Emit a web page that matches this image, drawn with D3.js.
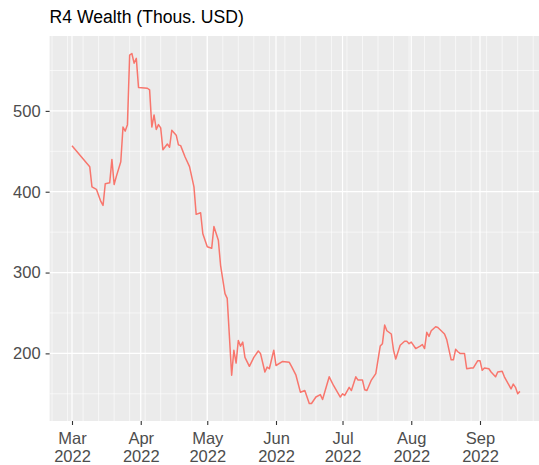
<!DOCTYPE html>
<html><head><meta charset="utf-8">
<script src="https://cdn.jsdelivr.net/npm/d3@7"></script>
<style>html,body{margin:0;padding:0;background:#fff;} svg{display:block;}</style>
</head><body>
<svg id="chart" width="539" height="465"></svg>
<script>
const titleText = "R4 Wealth (Thous. USD)";
const dates = ["2022-03-01","2022-03-09","2022-03-10","2022-03-12","2022-03-14","2022-03-15","2022-03-16","2022-03-18","2022-03-19","2022-03-20","2022-03-21","2022-03-23","2022-03-24","2022-03-25","2022-03-26","2022-03-27","2022-03-28","2022-03-29","2022-03-30","2022-03-31",
"2022-04-04","2022-04-05","2022-04-06","2022-04-07","2022-04-08","2022-04-09","2022-04-10","2022-04-11","2022-04-13","2022-04-14","2022-04-15","2022-04-17","2022-04-18","2022-04-19","2022-04-21","2022-04-23","2022-04-25","2022-04-26","2022-04-28","2022-04-29",
"2022-05-01","2022-05-03","2022-05-04","2022-05-06","2022-05-07","2022-05-09","2022-05-10","2022-05-12","2022-05-13","2022-05-14","2022-05-15","2022-05-16","2022-05-17","2022-05-18","2022-05-20","2022-05-22","2022-05-24","2022-05-25","2022-05-27","2022-05-28","2022-05-29","2022-05-31",
"2022-06-01","2022-06-04","2022-06-07","2022-06-08","2022-06-10","2022-06-12","2022-06-14","2022-06-16","2022-06-17","2022-06-19","2022-06-21","2022-06-22","2022-06-25","2022-06-27","2022-06-30",
"2022-07-01","2022-07-02","2022-07-04","2022-07-05","2022-07-07","2022-07-08","2022-07-10","2022-07-11","2022-07-12","2022-07-14","2022-07-16","2022-07-18","2022-07-19","2022-07-20","2022-07-21","2022-07-23","2022-07-24","2022-07-25","2022-07-27","2022-07-29","2022-07-30","2022-07-31",
"2022-08-01","2022-08-03","2022-08-05","2022-08-06","2022-08-07","2022-08-08","2022-08-09","2022-08-10","2022-08-12","2022-08-13","2022-08-16","2022-08-17","2022-08-19","2022-08-20","2022-08-21","2022-08-22","2022-08-23","2022-08-25","2022-08-26","2022-08-28","2022-08-29","2022-08-31",
"2022-09-01","2022-09-02","2022-09-03","2022-09-05","2022-09-06","2022-09-08","2022-09-09","2022-09-11","2022-09-12","2022-09-15","2022-09-16","2022-09-17","2022-09-18","2022-09-19"];
const wealth = [457,431,406,403,388,383,410,411,440,409,419,437,480,475,483,569,571,559,565,529,
528,526,480,495,477,483,479,452,459,455,476,470,458,457,443,431,406,372,374,348,
332,330,357,340,309,274,268,173,204,188,216,209,214,195,184,195,203,200,177,183,181,204,
185,190,189,184,173,152,154,138,138,146,149,143,171,160,146,
150,148,158,154,171,167,167,155,154,167,175,209,212,235,228,224,204,193,210,215,215,212,
214,206,209,211,206,226,221,228,233,232,224,217,192,192,205,202,200,200,181,182,182,191,
191,179,182,181,177,171,177,178,171,156,162,158,150,153];
const yTicks = [200,300,400,500];
const yMinor = [150,250,350,450,550];
const xTickDates = ["2022-03-01","2022-04-01","2022-05-01","2022-06-01","2022-07-01","2022-08-01","2022-09-01"];

const parse = d3.utcParse("%Y-%m-%d");
const data = dates.map((d,i)=>({date:parse(d), value:wealth[i]}));

const W = 539, H = 465;
const panel = {top:36, bottom:421};
const FONT = "Liberation Sans, Arial, sans-serif";

const xExt = d3.extent(data, d=>d.date);
const span = xExt[1]-xExt[0];
const xDom = [new Date(+xExt[0]-span*0.05), new Date(+xExt[1]+span*0.05)];
const pxPerMs = (480-72)/(parse("2022-09-01")-parse("2022-03-01"));
const x = d3.scaleUtc().domain(xDom)
  .range([72 - (xExt[0]-xDom[0])*pxPerMs, 72 + (xDom[1]-xExt[0])*pxPerMs]);
const yExt = d3.extent(wealth);
const yr = yExt[1]-yExt[0];
const y = d3.scaleLinear().domain([yExt[0]-yr*0.05, yExt[1]+yr*0.05]).range([panel.bottom, panel.top]);

const svg = d3.select("#chart");
const pl = x.range()[0], pr = x.range()[1];
svg.append("rect").attr("x",pl).attr("y",panel.top)
  .attr("width",pr-pl).attr("height",panel.bottom-panel.top).attr("fill","#EBEBEB");

const weekly = d3.utcSunday.range(xDom[0], xDom[1]);
const g = svg.append("g");
g.selectAll(".vmin").data(weekly).join("line")
  .attr("x1",d=>x(d)).attr("x2",d=>x(d)).attr("y1",panel.top).attr("y2",panel.bottom)
  .attr("stroke","#fff").attr("stroke-width",0.6);
g.selectAll(".hmin").data(yMinor).join("line")
  .attr("x1",pl).attr("x2",pr).attr("y1",d=>y(d)).attr("y2",d=>y(d))
  .attr("stroke","#fff").attr("stroke-width",0.6);
g.selectAll(".vmaj").data(xTickDates.map(parse)).join("line")
  .attr("x1",d=>x(d)).attr("x2",d=>x(d)).attr("y1",panel.top).attr("y2",panel.bottom)
  .attr("stroke","#fff").attr("stroke-width",1.2);
g.selectAll(".hmaj").data(yTicks).join("line")
  .attr("x1",pl).attr("x2",pr).attr("y1",d=>y(d)).attr("y2",d=>y(d))
  .attr("stroke","#fff").attr("stroke-width",1.2);

svg.append("path").datum(data)
  .attr("d", d3.line().x(d=>x(d.date)).y(d=>y(d.value)))
  .attr("fill","none").attr("stroke","#F8766D").attr("stroke-width",1.5)
  .attr("stroke-linejoin","round");

const fmtM = d3.utcFormat("%b"), fmtY = d3.utcFormat("%Y");
const xAxis = svg.append("g").attr("transform",`translate(0,${panel.bottom})`)
  .call(d3.axisBottom(x).tickValues(xTickDates.map(parse)).tickSize(4).tickFormat(()=>""));
xAxis.select(".domain").remove();
xAxis.selectAll(".tick line").attr("stroke","#333").attr("stroke-width",1.1);
xAxis.selectAll(".tick text").each(function(d){
  const t = d3.select(this);
  t.attr("font-family",FONT).attr("font-size",16.5).attr("fill","#4D4D4D").attr("y",0).attr("dy",null);
  t.append("tspan").attr("x",0).attr("y",22.5).text(fmtM(d));
  t.append("tspan").attr("x",0).attr("y",41).text(fmtY(d));
});
const yAxis = svg.append("g").attr("transform",`translate(${pl},0)`)
  .call(d3.axisLeft(y).tickValues(yTicks).tickSize(4).tickPadding(5));
yAxis.select(".domain").remove();
yAxis.selectAll(".tick line").attr("stroke","#333").attr("stroke-width",1.1);
yAxis.selectAll(".tick text").attr("font-family",FONT).attr("font-size",16.5).attr("fill","#4D4D4D");

svg.append("text").attr("x",pl).attr("y",23).text(titleText)
  .attr("font-family",FONT).attr("font-size",17.6).attr("fill","#000");
</script>
</body></html>
